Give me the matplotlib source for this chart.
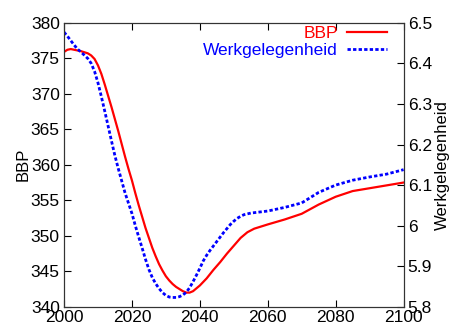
import matplotlib
matplotlib.use("Agg")
import matplotlib.pyplot as plt

plt.rcParams['font.family'] = ['Liberation Sans', 'DejaVu Sans']

# BBP (left axis)
bbp_jaar = [2000, 2001, 2002, 2003, 2005, 2007, 2008, 2009, 2010, 2011, 2012, 2013,
            2014, 2015, 2016, 2017, 2018, 2019, 2020, 2021, 2022, 2023, 2024, 2025,
            2026, 2027, 2028, 2029, 2030, 2031, 2032, 2033, 2034, 2035, 2036, 2037,
            2038, 2039, 2040, 2041, 2042, 2043, 2044, 2046, 2048, 2050, 2052, 2054,
            2056, 2058, 2060, 2065, 2070, 2075, 2080, 2085, 2090, 2095, 2100]
bbp = [375.9, 376.2, 376.3, 376.2, 376.0, 375.7, 375.4, 374.9, 374.0, 372.8, 371.3, 369.7,
       368.1, 366.4, 364.7, 362.9, 361.1, 359.4, 357.8, 356.0, 354.3, 352.7, 351.1, 349.7,
       348.3, 347.1, 346.0, 345.1, 344.3, 343.7, 343.2, 342.8, 342.5, 342.2, 342.0, 342.0,
       342.2, 342.6, 343.0, 343.5, 344.0, 344.6, 345.2, 346.3, 347.5, 348.6, 349.7, 350.5,
       351.0, 351.3, 351.6, 352.3, 353.1, 354.4, 355.5, 356.3, 356.7, 357.1, 357.5]

# Werkgelegenheid (right axis)
werk_jaar = [2000, 2001, 2002, 2003, 2004, 2005, 2006, 2007, 2008, 2009, 2010, 2011,
             2012, 2013, 2014, 2015, 2016, 2017, 2018, 2019, 2020, 2021, 2022, 2023,
             2024, 2025, 2026, 2027, 2028, 2029, 2030, 2031, 2032, 2033, 2034, 2035,
             2036, 2037, 2038, 2039, 2040, 2041, 2042, 2043, 2044, 2045, 2046, 2047,
             2048, 2049, 2050, 2051, 2052, 2053, 2054, 2055, 2056, 2058, 2060, 2065,
             2070, 2075, 2080, 2085, 2090, 2095, 2100]
werk = [6.477, 6.467, 6.456, 6.445, 6.435, 6.428, 6.420, 6.412, 6.400, 6.380, 6.352, 6.318,
        6.282, 6.245, 6.208, 6.172, 6.140, 6.110, 6.080, 6.055, 6.030, 6.000, 5.972, 5.945,
        5.917, 5.892, 5.872, 5.857, 5.845, 5.835, 5.828, 5.824, 5.823, 5.823, 5.825, 5.829,
        5.836, 5.847, 5.862, 5.878, 5.895, 5.913, 5.927, 5.939, 5.950, 5.961, 5.972, 5.983,
        5.993, 6.003, 6.011, 6.018, 6.023, 6.027, 6.029, 6.031, 6.032, 6.034, 6.036, 6.045,
        6.056, 6.082, 6.100, 6.112, 6.120, 6.127, 6.138]

fs = 12.5

fig = plt.figure(figsize=(4.55, 3.27), dpi=100)
ax = fig.add_axes([0.1407, 0.0618, 0.7463, 0.8685])
ax2 = ax.twinx()

l1, = ax.plot(bbp_jaar, bbp, color='red', lw=1.6, label='BBP')
l2, = ax2.plot(werk_jaar, werk, color='blue', lw=2.0, linestyle=(0, (1.2, 0.8)),
               label='Werkgelegenheid')

ax.set_xlim(2000, 2100)
ax.set_ylim(340, 380)
ax2.set_ylim(5.8, 6.5)
ax.set_xticks(range(2000, 2101, 20))
ax.set_yticks(range(340, 381, 5))
ax2.set_yticks([5.8, 5.9, 6.0, 6.1, 6.2, 6.3, 6.4, 6.5])
ax2.set_yticklabels(['5.8', '5.9', '6', '6.1', '6.2', '6.3', '6.4', '6.5'])

ax.tick_params(axis='x', direction='in', top=True, length=5, labelsize=fs, pad=2)
ax.tick_params(axis='y', direction='in', right=False, length=5, labelsize=fs, pad=3)
ax2.tick_params(axis='y', direction='in', length=5, labelsize=fs, pad=3)

for a in (ax, ax2):
    for s in a.spines.values():
        s.set_color('#333333')

ax.set_ylabel('BBP', fontsize=fs - 0.5, labelpad=0)
ax2.set_ylabel('Werkgelegenheid', fontsize=fs - 0.5, labelpad=2)

leg = ax2.legend([l1, l2], ['BBP', 'Werkgelegenheid'], loc='upper right',
                 bbox_to_anchor=(0.976, 1.021),
                 frameon=False, markerfirst=False, fontsize=fs,
                 labelcolor='linecolor', handlelength=2.3, handletextpad=0.5,
                 borderaxespad=0.1, labelspacing=0.15)

fig.savefig('out.png', dpi=100)
